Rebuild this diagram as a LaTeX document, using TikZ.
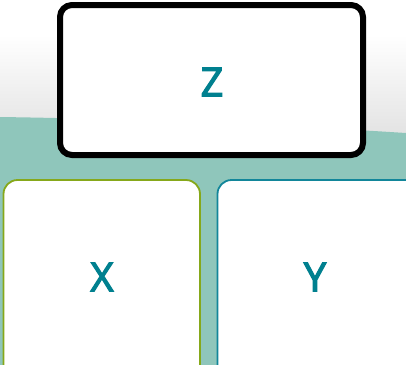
\documentclass[tikz,border=0pt]{standalone}
\usepackage{fontspec}
\newfontfamily\labelfont{Open Sans}[FakeBold=3]
\definecolor{labelteal}{HTML}{00808F}
\definecolor{bandteal}{HTML}{8FC6BB}
\definecolor{olive}{HTML}{86A81A}
\definecolor{frameteal}{HTML}{12869A}
\begin{document}
\begin{tikzpicture}[x=1bp,y=-1bp,
  card/.style={fill=white,rounded corners=14bp,line width=1.8bp},
  label/.style={text=labelteal,font=\labelfont\fontsize{40}{40}\selectfont,inner sep=0pt}]
\useasboundingbox (0,0) rectangle (406,365);
% soft grey fade towards the band
\shade[top color=white,bottom color=black!11] (0,35) rectangle (406,135);
% teal band with a gently curved upper edge
\fill[bandteal] (0,117) .. controls (140,119) and (280,125) .. (406,133) -- (406,365) -- (0,365) -- cycle;
% lower cards
\draw[card,draw=olive] (3.5,180) rectangle (200,380);
\draw[card,draw=frameteal] (217.5,180) rectangle (425,380);
% upper card
\draw[fill=white,draw=black,line width=6bp,rounded corners=12bp] (60,5) rectangle (363,155);
\node[label] (z) at (212,82) {Z};
\node[label] (x) at (102,277) {X};
\node[label] (y) at (315,277) {Y};
\end{tikzpicture}
\end{document}
